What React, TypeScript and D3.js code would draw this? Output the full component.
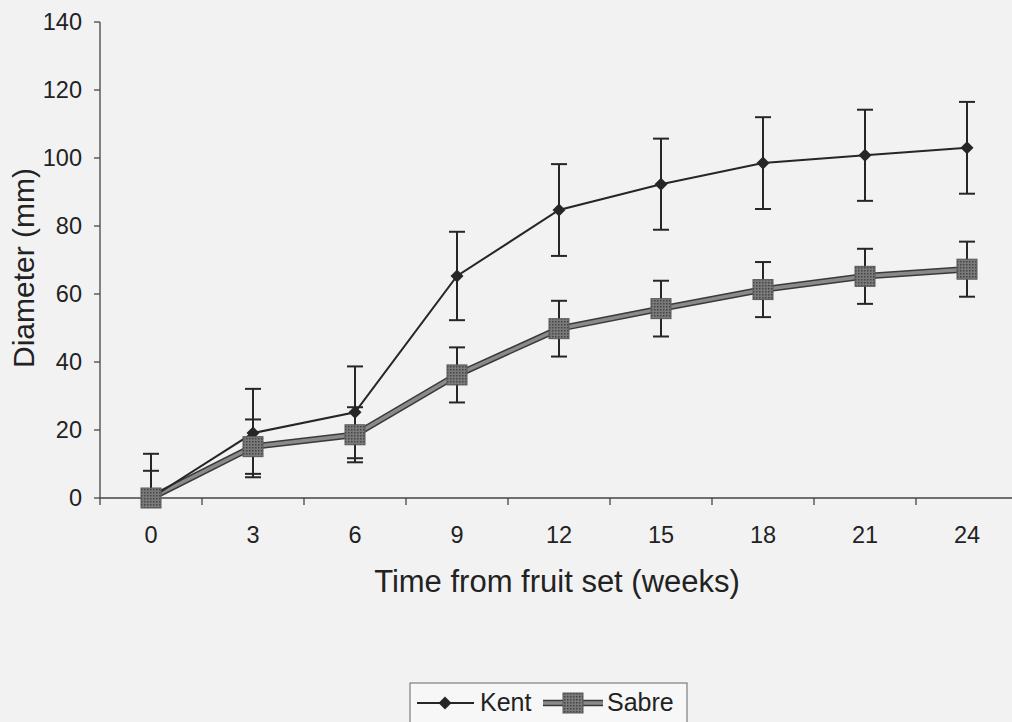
import React from "react";
import * as d3 from "d3";

const weeks = ["0", "3", "6", "9", "12", "15", "18", "21", "24"];
const kent = [0, 19.1, 25.2, 65.3, 84.7, 92.3, 98.5, 100.8, 103];
const kentErr = [13, 13, 13.5, 13, 13.5, 13.4, 13.5, 13.4, 13.5];
const sabre = [0, 15.1, 18.6, 36.2, 49.8, 55.7, 61.3, 65.2, 67.3];
const sabreErr = [8, 8, 8.1, 8.1, 8.2, 8.2, 8.1, 8.1, 8.1];
const yTicks = [0, 20, 40, 60, 80, 100, 120, 140];

const W = 1012;
const H = 722;

export default function App() {
  const x = d3.scaleBand<string>().domain(weeks).range([100, 1018]).padding(0);
  const y = d3.scaleLinear().domain([0, 140]).range([498, 22]);
  const cx = (w: string) => (x(w) as number) + x.bandwidth() / 2;
  const line = d3
    .line<number>()
    .x((_, i) => cx(weeks[i]))
    .y((d) => y(d));

  const font = "'Liberation Sans', Arial, sans-serif";
  const dark = "#262626";

  const errBars = (vals: number[], errs: number[], key: string) =>
    vals.map((v, i) => {
      const hi = Math.min(140, v + errs[i]);
      const lo = Math.max(0, v - errs[i]);
      const X = cx(weeks[i]);
      return (
        <g key={key + i} stroke={dark} strokeWidth={2}>
          <line x1={X} x2={X} y1={y(hi)} y2={y(lo)} />
          {v + errs[i] <= 140 && <line x1={X - 8} x2={X + 8} y1={y(hi)} y2={y(hi)} />}
          {v - errs[i] >= 0 && <line x1={X - 8} x2={X + 8} y1={y(lo)} y2={y(lo)} />}
        </g>
      );
    });

  const diamond = (X: number, Y: number, r: number) =>
    `M${X},${Y - r}L${X + r},${Y}L${X},${Y + r}L${X - r},${Y}Z`;

  return (
    <svg
      width={W}
      height={H}
      style={{ position: "absolute", left: 0, top: 0, background: "#f2f2f2" }}
    >
      <defs>
        <pattern id="halftone" width="3" height="3" patternUnits="userSpaceOnUse">
          <rect width="3" height="3" fill="#7a7a7a" />
          <rect width="1.5" height="1.5" fill="#444" />
        </pattern>
      </defs>
      <rect width={W} height={H} fill="#f2f2f2" />
      {/* axes */}
      <line x1={100} x2={100} y1={y(140)} y2={y(0)} stroke="#444" strokeWidth={1.3} />
      <line x1={100} x2={W} y1={y(0)} y2={y(0)} stroke="#444" strokeWidth={1.3} />
      {yTicks.map((t) => (
        <g key={"yt" + t}>
          <line x1={94} x2={100} y1={y(t)} y2={y(t)} stroke="#444" strokeWidth={1.3} />
          <text
            x={82}
            y={y(t)}
            dy="0.36em"
            textAnchor="end"
            fontFamily={font}
            fontSize={23.5}
            fill="#222"
          >
            {t}
          </text>
        </g>
      ))}
      {weeks.map((w) => (
        <g key={"xt" + w}>
          <line
            x1={x(w) as number}
            x2={x(w) as number}
            y1={y(0)}
            y2={y(0) + 7}
            stroke="#444"
            strokeWidth={1.3}
          />
          <text
            x={cx(w)}
            y={543}
            textAnchor="middle"
            fontFamily={font}
            fontSize={23.5}
            fill="#222"
          >
            {w}
          </text>
        </g>
      ))}
      <text
        transform={`translate(34,${268}) rotate(-90)`}
        textAnchor="middle"
        fontFamily={font}
        fontSize={30}
        fill="#222"
      >
        Diameter (mm)
      </text>
      <text
        x={557}
        y={592}
        textAnchor="middle"
        fontFamily={font}
        fontSize={31}
        fill="#222"
      >
        Time from fruit set (weeks)
      </text>

      {/* error bars */}
      {errBars(kent, kentErr, "ke")}
      {errBars(sabre, sabreErr, "se")}

      {/* Sabre line */}
      <path d={line(sabre) || ""} fill="none" stroke="#3a3a3a" strokeWidth={6.5} />
      <path d={line(sabre) || ""} fill="none" stroke="#8a8a8a" strokeWidth={3.5} />
      {/* Kent line */}
      <path d={line(kent) || ""} fill="none" stroke={dark} strokeWidth={2} />
      {kent.map((v, i) => (
        <path key={"kd" + i} d={diamond(cx(weeks[i]), y(v), 6.5)} fill={dark} />
      ))}
      {sabre.map((v, i) => (
        <rect
          key={"ss" + i}
          x={cx(weeks[i]) - 10}
          y={y(v) - 10}
          width={20}
          height={20}
          fill="url(#halftone)"
          stroke="#5a5a5a"
          strokeWidth={1}
        />
      ))}

      {/* legend */}
      <rect x={410} y={683} width={277} height={50} fill="#f7f7f7" stroke="#666" strokeWidth={1} />
      <line x1={417} x2={474} y1={703} y2={703} stroke={dark} strokeWidth={2} />
      <path d={diamond(445, 703, 6.5)} fill={dark} />
      <text x={480} y={711} fontFamily={font} fontSize={25} fill="#222">
        Kent
      </text>
      <line x1={543} x2={603} y1={703} y2={703} stroke="#3a3a3a" strokeWidth={6.5} />
      <line x1={543} x2={603} y1={703} y2={703} stroke="#8a8a8a" strokeWidth={3.5} />
      <rect x={563} y={693} width={20} height={20} fill="url(#halftone)" stroke="#5a5a5a" strokeWidth={1} />
      <text x={607} y={711} fontFamily={font} fontSize={25} fill="#222">
        Sabre
      </text>
    </svg>
  );
}
